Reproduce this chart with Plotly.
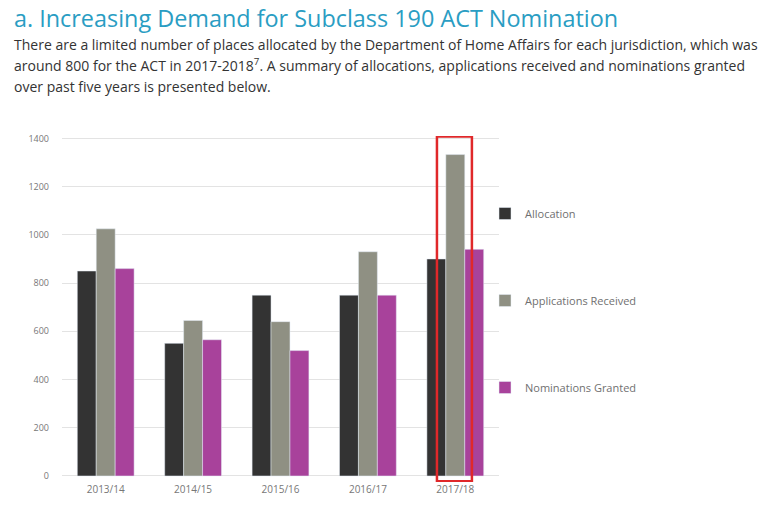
import plotly.graph_objects as go

years = ['2013/14', '2014/15', '2015/16', '2016/17', '2017/18']
allocation = [850, 550, 750, 750, 900]
applications = [1025, 645, 640, 930, 1333]
nominations = [860, 565, 520, 750, 940]

title_text = 'a. Increasing Demand for Subclass 190 ACT Nomination'
intro_lines = [
    'There are a limited number of places allocated by the Department of Home Affairs for each jurisdiction, which was',
    'around 800 for the ACT in 2017-2018<sup>7</sup>. A summary of allocations, applications received and nominations granted',
    'over past five years is presented below.',
]

# the page puts the figure 8px in from the top left corner
OFF = 8
W, H = 771 - OFF, 522 - OFF
L, R, T, B = 62 - OFF, 272, 136 - OFF, 40
pw, ph = W - L - R, H - T - B

def px_x(px):
    return (px - OFF - L) / pw

def px_y(py):
    return (H - B - (py - OFF)) / ph

fig = go.Figure()

fig.add_trace(go.Bar(x=years, y=allocation, name='Allocation',
                     marker_color='#333333', legendgroup='a'))
fig.add_trace(go.Bar(x=years, y=applications, name='Applications Received',
                     marker_color='#8f9083', legendgroup='b'))
fig.add_trace(go.Bar(x=years, y=nominations, name='Nominations Granted',
                     marker_color='#a8429b', legendgroup='c'))

# highlight box round the latest year
fig.add_shape(type='rect', xref='x', yref='y',
              x0=3.79, x1=4.19, y0=-22, y1=1408,
              line=dict(color='#e0282a', width=2.5), fillcolor='rgba(0,0,0,0)')

for i, line in enumerate(intro_lines):
    fig.add_annotation(text=line, xref='paper', yref='paper',
                       x=px_x(12), y=px_y([45, 65, 86][i]),
                       xanchor='left', yanchor='middle', showarrow=False,
                       font=dict(family='Open Sans', size=14, color='#333333'))

fig.update_layout(
    width=W, height=H,
    margin=dict(l=L, r=R, t=T, b=B),
    paper_bgcolor='white', plot_bgcolor='white',
    title=dict(text=title_text, x=(14 - OFF) / W, xanchor='left',
               y=1 - (19 - OFF) / H, yanchor='middle',
               font=dict(family='Open Sans', size=23.4, color='#2a9dc3')),
    barmode='group', bargap=0.35, bargroupgap=0,
    showlegend=True,
    legend=dict(x=px_x(485), y=px_y(199), xanchor='left', yanchor='top',
                tracegroupgap=68, font=dict(family='Open Sans', size=11, color='#707070'),
                itemwidth=30, bgcolor='rgba(0,0,0,0)'),
    xaxis=dict(showgrid=False, showline=False, ticks='',
               tickfont=dict(family='Open Sans', size=10, color='#777777')),
    yaxis=dict(range=[-25, 1410], tickvals=[0, 200, 400, 600, 800, 1000, 1200, 1400],
               showgrid=True, gridcolor='#e3e3e3', gridwidth=1, zeroline=False,
               showline=False, ticks='', ticklabelstandoff=12,
               tickfont=dict(family='Open Sans', size=9, color='#777777')),
)

fig.write_html('out.html')
